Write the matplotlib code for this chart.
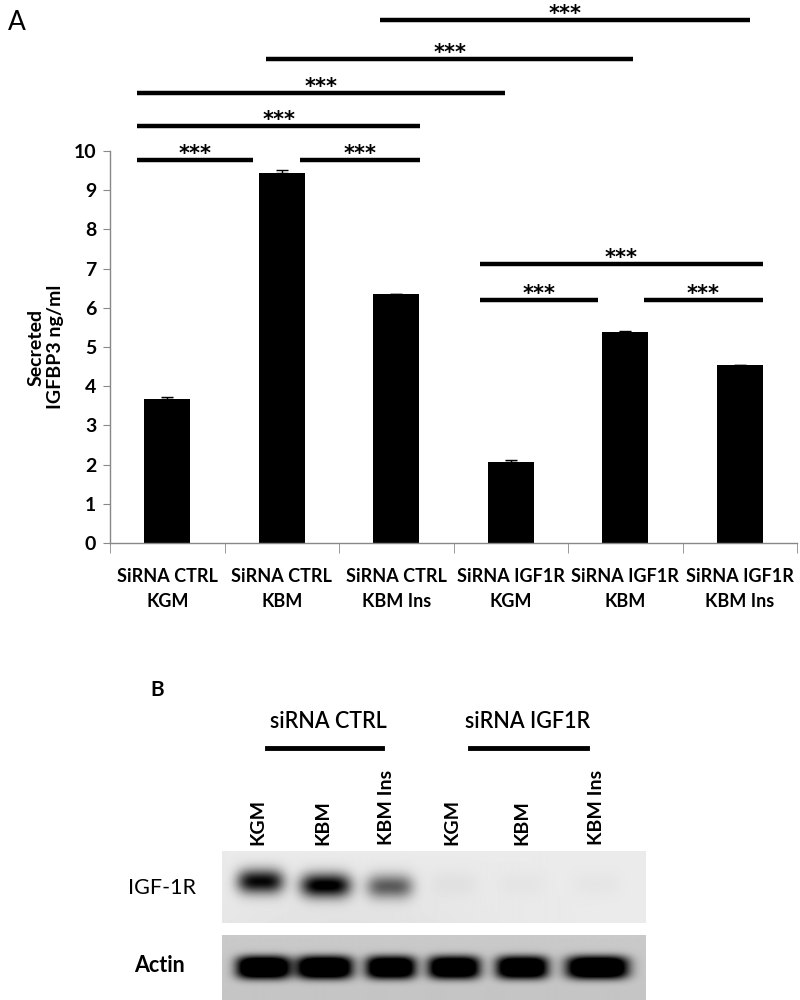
import numpy as np
import matplotlib
matplotlib.use('Agg')
from matplotlib import pyplot as plt

plt.rcParams['font.family'] = ['Lato', 'DejaVu Sans']

# --- panel A data ---
groups = ['SiRNA CTRL\nKGM', 'SiRNA CTRL\nKBM', 'SiRNA CTRL\nKBM Ins',
          'SiRNA IGF1R\nKGM', 'SiRNA IGF1R\nKBM', 'SiRNA IGF1R\nKBM Ins']
secreted = [3.67, 9.45, 6.34, 2.06, 5.39, 4.53]
sem = [0.05, 0.07, 0.02, 0.07, 0.03, 0.02]
y_ticks = list(range(0, 11))

# significance bars: (start, end, height) in data units
sig_bars = [(-0.26, 0.75, 9.76), (1.16, 2.21, 9.76), (-0.26, 2.21, 10.63),
            (-0.26, 2.95, 11.49), (0.86, 4.07, 12.34), (1.86, 5.09, 13.33),
            (2.73, 5.20, 7.11), (2.73, 3.76, 6.19), (4.16, 5.20, 6.19)]
sig_label = '***'

# --- panel B data ---
lane_names = ['KGM', 'KBM', 'KBM Ins', 'KGM', 'KBM', 'KBM Ins']
label_px = [36, 101, 165, 230, 300, 375]       # lane label centres (px from blot left)
igf1r_px = [38, 103, 167, 231, 299, 374]
igf1r_level = [0.85, 0.92, 0.52, 0.03, 0.02, 0.02]
igf1r_y = [30, 34, 35, 33, 33, 33]
igf1r_w = [46, 50, 46, 46, 46, 46]
actin_px = [41, 102, 168, 231, 299, 374]
actin_level = [1.0, 1.0, 0.95, 0.95, 0.95, 1.0]
actin_width = [54, 56, 50, 52, 52, 62]

fig = plt.figure(figsize=(8, 10), dpi=100)

ax = fig.add_axes([0.1375, 0.457, 0.859, 0.392])
x = np.arange(len(groups))
ax.bar(x, secreted, width=0.40, color='black', zorder=2)
ax.errorbar(x, secreted, yerr=[np.zeros(len(sem)), sem], fmt='none',
            ecolor='black', elinewidth=1, capsize=4, capthick=1, zorder=3)
ax.set_xlim(-0.5, 5.5)
ax.set_ylim(0, 10)
ax.set_yticks(y_ticks)
ax.set_yticklabels([str(t) for t in y_ticks], fontsize=14, fontweight='bold')
ax.set_xticks(x)
ax.set_xticklabels(groups, fontsize=13, fontweight='bold', linespacing=1.55)
ax.set_xticks(np.arange(-0.5, 6.0, 1.0), minor=True)
ax.tick_params(axis='x', which='major', length=0, pad=18)
ax.tick_params(axis='x', which='minor', length=7, color='#888888', direction='out')
ax.tick_params(axis='y', length=5, color='#888888', direction='out', pad=5)
for s in ['top', 'right']:
    ax.spines[s].set_visible(False)
for s in ['left', 'bottom']:
    ax.spines[s].set_color('#888888')
    ax.spines[s].set_linewidth(1)

for x0, x1, h in sig_bars:
    ax.plot([x0, x1], [h, h], color='black', lw=3.2, clip_on=False,
            solid_capstyle='butt')
    ax.text((x0 + x1) / 2, h, sig_label, ha='center', va='baseline',
            fontsize=15, fontweight='bold', family='DejaVu Sans', clip_on=False)

fig.text(0.057, 0.653, 'Secreted\nIGFBP3 ng/ml', rotation=90, ha='center',
         va='center', fontsize=14, fontweight='bold', linespacing=1.15)
fig.text(0.01, 0.978, 'A', fontsize=19, ha='left', va='center')

# --- panel B ---
fig.text(0.196, 0.31, 'B', fontsize=15, fontweight='bold', ha='center', va='center')
fig.text(0.41, 0.278, 'siRNA CTRL', fontsize=15.5, fontweight='semibold',
         ha='center', va='center')
fig.text(0.660, 0.278, 'siRNA IGF1R', fontsize=15.5, fontweight='semibold',
         ha='center', va='center')
fig.add_artist(plt.Line2D([0.334, 0.478], [0.252, 0.252], color='black', lw=3.5))
fig.add_artist(plt.Line2D([0.587, 0.734], [0.252, 0.252], color='black', lw=3.5))
for name, px in zip(lane_names, label_px):
    fig.text((222 + px) / 800, 0.155, name, rotation=90, ha='center',
             va='bottom', fontsize=14, fontweight='bold')
fig.text(0.202, 0.112, 'IGF-1R', fontsize=15.5, ha='center', va='center')
fig.text(0.200, 0.035, 'Actin', fontsize=15.5, fontweight='bold', ha='center', va='center')

# build blot images from band levels
W = 423
xx = np.arange(W)[None, :]

H1 = 72
yy1 = np.arange(H1)[:, None]
blot1 = 0.92 - 0.035 * np.exp(-((xx - 120) / 140.0) ** 2) * (yy1 / H1)
for px, lev, cy, w in zip(igf1r_px, igf1r_level, igf1r_y, igf1r_w):
    prof = np.exp(-np.abs((xx - px) / (w / 2)) ** 3.5) * np.exp(-((yy1 - cy) / 12.0) ** 2)
    blot1 = blot1 - lev * 1.05 * prof
blot1 = np.clip(blot1, 0, 1)

H2 = 65
yy2 = np.arange(H2)[:, None]
blot2 = 0.79 - 0.02 * (yy2 / H2) + 0.0 * xx
for px, lev, w in zip(actin_px, actin_level, actin_width):
    prof = np.exp(-np.abs((xx - px) / (w / 2)) ** 4) * np.exp(-np.abs((yy2 - 32) / 11.5) ** 3)
    blot2 = blot2 - lev * 1.25 * prof
blot2 = np.clip(blot2, 0, 1)

axb1 = fig.add_axes([222 / 800, 0.077, W / 800, H1 / 1000])
axb1.imshow(blot1, cmap='gray', vmin=0, vmax=1, aspect='auto', interpolation='bilinear')
axb1.axis('off')
axb2 = fig.add_axes([222 / 800, 0.0, W / 800, H2 / 1000])
axb2.imshow(blot2, cmap='gray', vmin=0, vmax=1, aspect='auto', interpolation='bilinear')
axb2.axis('off')

fig.savefig('out.png', dpi=100)
